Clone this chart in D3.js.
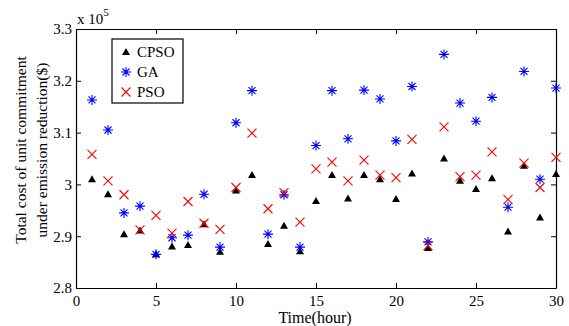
<!DOCTYPE html>
<html>
<head>
<meta charset="utf-8">
<script src="https://cdn.jsdelivr.net/npm/d3@7"></script>
<style>
  body { margin: 0; background: #fff; }
  svg text { font-family: "Liberation Serif", "Times New Roman", serif; fill: #000; }
</style>
</head>
<body>
<div id="chart"></div>
<script>
// hours 1..30, values in units of 1e5 $
const hours = d3.range(1, 31);
const cpso = [3.010, 2.981, 2.904, 2.911, 2.865, 2.880, 2.883, 2.923, 2.870, 2.988,
  3.018, 2.885, 2.920, 2.871, 2.968, 3.018, 2.973, 3.018, 3.010, 2.972,
  3.021, 2.877, 3.050, 3.007, 2.991, 3.012, 2.909, 3.036, 2.936, 3.020];
const ga = [3.163, 3.105, 2.945, 2.958, 2.865, 2.897, 2.902, 2.981, 2.879, 3.119,
  3.181, 2.904, 2.980, 2.879, 3.075, 3.181, 3.088, 3.182, 3.165, 3.084,
  3.189, 2.889, 3.251, 3.157, 3.122, 3.168, 2.956, 3.218, 3.010, 3.186];
const pso = [3.058, 3.007, 2.980, 2.912, 2.940, 2.906, 2.967, 2.925, 2.913, 2.994,
  3.099, 2.953, 2.984, 2.927, 3.030, 3.043, 3.007, 3.047, 3.018, 3.013,
  3.087, 2.882, 3.111, 3.015, 3.018, 3.063, 2.971, 3.041, 2.994, 3.052];
const xTicks = [0, 5, 10, 15, 20, 25, 30];
const yTicks = [2.8, 2.9, 3.0, 3.1, 3.2, 3.3];
const seriesNames = ["CPSO", "GA", "PSO"];

const width = 569, height = 326;
const margin = { left: 76, right: 13, top: 29, bottom: 38 };
const innerW = width - margin.left - margin.right;
const innerH = height - margin.top - margin.bottom;

const svg = d3.select("#chart").append("svg")
  .attr("width", width).attr("height", height);
const g = svg.append("g").attr("transform", `translate(${margin.left},${margin.top})`);

const x = d3.scaleLinear().domain([0, 30]).range([0, innerW]);
const y = d3.scaleLinear().domain([2.8, 3.3]).range([innerH, 0]);

const fmtY = d => d3.format("~g")(+d.toFixed(1));
const tickLen = 5;

// inward ticks on all four sides, MATLAB style
const axisB = d3.axisBottom(x).tickValues(xTicks).tickSizeInner(-tickLen).tickSizeOuter(0).tickPadding(7);
const axisT = d3.axisTop(x).tickValues(xTicks).tickSizeInner(-tickLen).tickSizeOuter(0).tickFormat("");
const axisL = d3.axisLeft(y).tickValues(yTicks).tickSizeInner(-tickLen).tickSizeOuter(0).tickPadding(4).tickFormat(fmtY);
const axisR = d3.axisRight(y).tickValues(yTicks).tickSizeInner(-tickLen).tickSizeOuter(0).tickFormat("");

function styleAxis(sel) {
  sel.select(".domain").attr("stroke", "#000").attr("stroke-width", 1.2);
  sel.selectAll(".tick line").attr("stroke", "#000");
  sel.selectAll(".tick text").attr("font-size", 15).attr("font-family", "Liberation Serif");
}

g.append("g").attr("transform", `translate(0,${innerH})`).call(axisB).call(styleAxis);
g.append("g").call(axisT).call(styleAxis);
g.append("g").call(axisL).call(styleAxis);
g.append("g").attr("transform", `translate(${innerW},0)`).call(axisR).call(styleAxis);

// multiplier label
const mult = svg.append("text").attr("x", margin.left + 1).attr("y", 24).attr("font-size", 15);
mult.append("tspan").text("x 10");
mult.append("tspan").attr("dy", -8).attr("font-size", 11).text("5");

// axis titles
svg.append("text")
  .attr("x", margin.left + innerW / 2 - 1).attr("y", 323)
  .attr("text-anchor", "middle").attr("font-size", 16)
  .text("Time(hour)");

const yl = svg.append("text")
  .attr("transform", `translate(26,150) rotate(-90)`)
  .attr("text-anchor", "middle").attr("font-size", 15.5);
yl.append("tspan").attr("x", 0).attr("dy", 0).text("Total cost of unit commitment");
yl.append("tspan").attr("x", 0).attr("dy", 21).text("under emission reduction($)");

// markers
function drawTri(sel) {
  sel.append("path").attr("d", "M0,-4L4,3L-4,3Z").attr("fill", "#000");
}
function drawStar(sel) {
  sel.append("path")
    .attr("d", "M-5,0H5M0,-5V5M-3.5,-3.5L3.5,3.5M-3.5,3.5L3.5,-3.5")
    .attr("stroke", "#0000ff").attr("stroke-width", 1.1).attr("fill", "none");
}
function drawX(sel) {
  sel.append("path")
    .attr("d", "M-4.5,-4.5L4.5,4.5M-4.5,4.5L4.5,-4.5")
    .attr("stroke", "#ff0000").attr("stroke-width", 1.1).attr("fill", "none");
}
const drawers = [drawTri, drawStar, drawX];
const allSeries = [cpso, ga, pso];

allSeries.forEach((vals, i) => {
  g.append("g").selectAll("g")
    .data(vals)
    .join("g")
    .attr("transform", (d, j) => `translate(${x(hours[j])},${y(d)})`)
    .call(drawers[i]);
});

// legend
const lg = svg.append("g").attr("transform", "translate(112,39)");
lg.append("rect").attr("width", 71).attr("height", 64)
  .attr("fill", "#fff").attr("stroke", "#000").attr("stroke-width", 1.2);
seriesNames.forEach((name, i) => {
  const row = lg.append("g").attr("transform", `translate(0,${13 + i * 20})`);
  row.append("g").attr("transform", "translate(14,0)").call(drawers[i]);
  row.append("text").attr("x", 25).attr("y", 5).attr("font-size", 15).text(name);
});
</script>
</body>
</html>
